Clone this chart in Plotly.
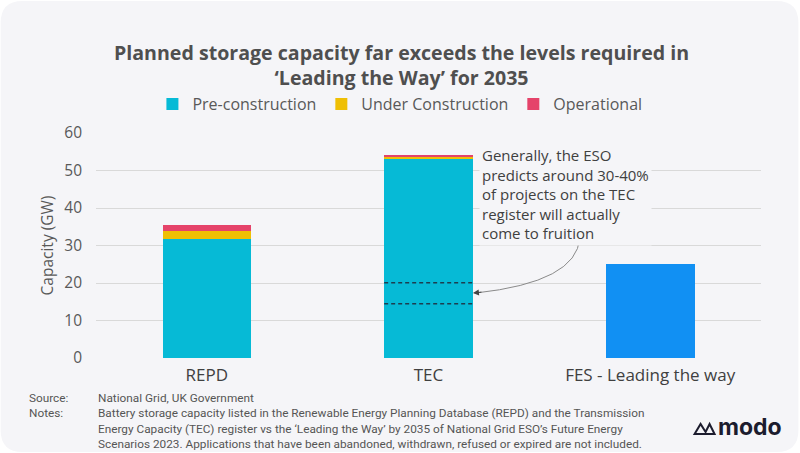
import plotly.graph_objects as go

categories = ["REPD", "TEC", "FES - Leading the way"]
pre_construction = [31.7, 53.1, None]
under_construction = [2.3, 0.4, None]
operational = [1.6, 0.6, None]
fes_leading = [None, None, 25.0]
tec_range_lines = [20.1, 14.5]  # 30-40% markers on TEC bar
y_ticks = [0, 10, 20, 30, 40, 50, 60]

title_text = "<b>Planned storage capacity far exceeds the levels required in<br>‘Leading the Way’ for 2035</b>"
note_text = ("Generally, the ESO<br>predicts around 30-40%<br>of projects on the TEC<br>"
             "register will actually<br>come to fruition")
footer_labels = ["Source:", "Notes:"]
footer_lines = [
    "National Grid, UK Government",
    "Battery storage capacity listed in the Renewable Energy Planning Database (REPD) and the Transmission",
    "Energy Capacity (TEC) register vs the ‘Leading the Way’ by 2035 of National Grid ESO’s Future Energy",
    "Scenarios 2023. Applications that have been abandoned, withdrawn, refused or expired are not included.",
]

W, H = 800, 453
L, R, T, B = 95.5, 38.5, 133, 95
pw, ph = W - L - R, H - T - B


def px(x):
    return (x - L) / pw


def py(y):
    return (H - B - y) / ph


FONT = "Open Sans"
BG = "#f5f5f8"

fig = go.Figure()
fig.add_bar(x=categories, y=pre_construction, name="Pre-construction",
            marker_color="#06bad6", marker_line_width=0)
fig.add_bar(x=categories, y=under_construction, name="Under Construction",
            marker_color="#efbf04", marker_line_width=0)
fig.add_bar(x=categories, y=operational, name="Operational",
            marker_color="#e5436a", marker_line_width=0)
fig.add_bar(x=categories, y=fes_leading, name="FES", showlegend=False,
            marker_color="#1190f3", marker_line_width=0)

shapes = []
# rounded background card
r = 22
x0, x1, y0, y1 = 0, 799, 1, 452
path = (f"M {px(x0 + r)},{py(y0)} L {px(x1 - r)},{py(y0)} "
        f"Q {px(x1)},{py(y0)} {px(x1)},{py(y0 + r)} L {px(x1)},{py(y1 - r)} "
        f"Q {px(x1)},{py(y1)} {px(x1 - r)},{py(y1)} L {px(x0 + r)},{py(y1)} "
        f"Q {px(x0)},{py(y1)} {px(x0)},{py(y1 - r)} L {px(x0)},{py(y0 + r)} "
        f"Q {px(x0)},{py(y0)} {px(x0 + r)},{py(y0)} Z")
shapes.append(dict(type="path", path=path, xref="paper", yref="paper",
                   fillcolor=BG, line_width=0, layer="below"))

tec_idx = categories.index("TEC")
for v in tec_range_lines:
    shapes.append(dict(type="line", xref="x", yref="y",
                       x0=tec_idx - 0.2, x1=tec_idx + 0.2, y0=v, y1=v,
                       line=dict(color="#1d3d4f", width=1.5, dash="4px,3px")))

# curved arrow from annotation to TEC bar
ax0, ay0 = 580, 238
ax1, ay1 = 476, 293
cx, cy = 577, 282
shapes.append(dict(type="path", xref="paper", yref="paper",
                   path=f"M {px(ax0)},{py(ay0)} Q {px(cx)},{py(cy)} {px(ax1)},{py(ay1)}",
                   line=dict(color="#8a8a8a", width=1)))

annotations = []
annotations.append(dict(x=px(ax1 - 3), y=py(ay1), ax=10, ay=-1,
                        xref="paper", yref="paper", axref="pixel", ayref="pixel",
                        text="", showarrow=True, arrowhead=2, arrowsize=1.2,
                        arrowwidth=1, arrowcolor="#444"))

annotations.append(dict(xref="paper", yref="paper", x=px(401), y=py(65),
                        text=title_text,
                        showarrow=False, xanchor="center", yanchor="middle",
                        font=dict(family=FONT, size=19.6, color="#4f4f4f")))

annotations.append(dict(xref="paper", yref="paper", x=px(479), y=py(142),
                        text=note_text,
                        showarrow=False, xanchor="left", yanchor="top", align="left",
                        bgcolor=BG, borderpad=2,
                        font=dict(family=FONT, size=15, color="#404040")))

foot_font = dict(family="Roboto", size=11.8, color="#555555")
annotations.append(dict(xref="paper", yref="paper", x=px(27), y=py(390),
                        text="<br>".join(footer_labels), showarrow=False, xanchor="left",
                        yanchor="top", align="left", font=foot_font, borderpad=0))
annotations.append(dict(xref="paper", yref="paper", x=px(97), y=py(390),
                        text="<br>".join(footer_lines), showarrow=False, xanchor="left",
                        yanchor="top", align="left", font=foot_font, borderpad=0))

annotations.append(dict(xref="paper", yref="paper", x=px(716), y=py(427),
                        text="<b>modo</b>", showarrow=False, xanchor="left",
                        yanchor="middle", font=dict(family="Inter", size=23, color="#1c1c2e")))
# modo icon
ix, iy = 695, 428
icon = (f"M {px(ix)},{py(iy+6)} L {px(ix+6)},{py(iy-4)} L {px(ix+11)},{py(iy+4)} "
        f"L {px(ix+15)},{py(iy-4)} L {px(ix+20)},{py(iy+6)} Z")
shapes.append(dict(type="path", xref="paper", yref="paper", path=icon,
                   line=dict(color="#1c1c2e", width=2)))

fig.update_layout(
    width=W, height=H,
    margin=dict(l=L, r=R, t=T, b=B, autoexpand=False),
    paper_bgcolor="white", plot_bgcolor="rgba(0,0,0,0)",
    barmode="stack", bargap=0.6,
    font=dict(family=FONT, color="#595959"),
    shapes=shapes, annotations=annotations,
    legend=dict(orientation="h", x=px(152), y=py(104), xanchor="left", yanchor="middle",
                font=dict(family=FONT, size=16, color="#595959"), bgcolor="rgba(0,0,0,0)",
                traceorder="normal", itemwidth=30),
    xaxis=dict(tickfont=dict(size=17, color="#404040"), showgrid=False, showline=False,
               ticks="", ticklabelstandoff=5),
    yaxis=dict(range=[0, 60], tickvals=y_ticks, showgrid=True, gridcolor="#d9d9d9",
               gridwidth=1, zeroline=False, tickfont=dict(size=15.5, color="#595959"),
               ticks="", ticklabelstandoff=13,
               title=dict(text="Capacity (GW)", font=dict(size=15.5, color="#595959"),
                          standoff=6)),
)

fig.write_html("out.html")
